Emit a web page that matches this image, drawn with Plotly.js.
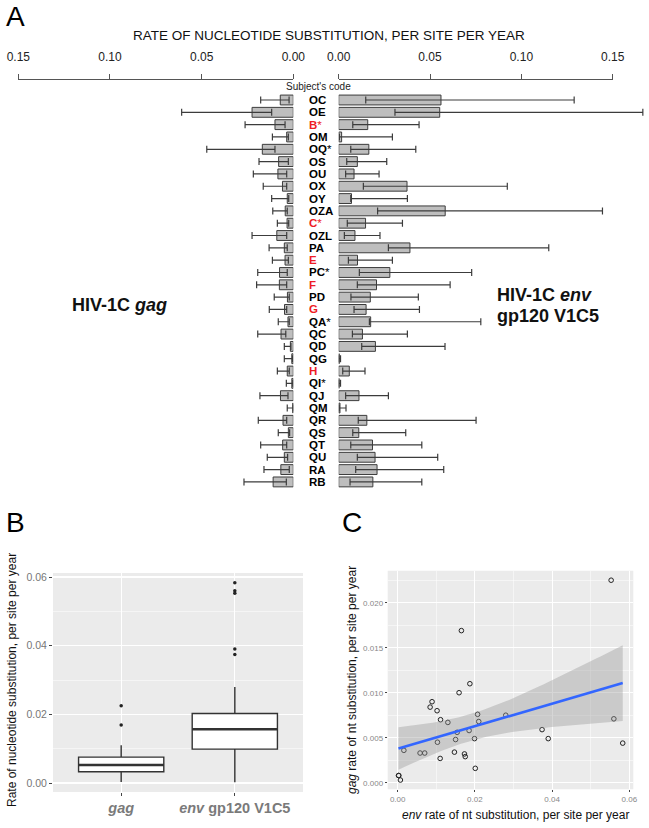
<!DOCTYPE html>
<html><head><meta charset="utf-8">
<script src="https://cdn.plot.ly/plotly-3.0.1.min.js"></script>
<style>html,body{margin:0;padding:0;background:#fff}#chart{width:649px;height:828px}</style>
</head><body><div id="chart"></div>
<script>
// ---------------- DATA ----------------
const subjects = ['OC','OE','B*','OM','OQ*','OS','OU','OX','OY','OZA','C*','OZL','PA','E','PC*','F','PD','G','QA*','QC','QD','QG','H','QI*','QJ','QM','QR','QS','QT','QU','RA','RB'];
const highlighted = ['B*','C*','E','F','G','H'];

// gag: mean rate, lower and upper interval ends
const gagRate = [0.0071,0.0225,0.0100,0.0036,0.0169,0.0080,0.0084,0.0059,0.0033,0.0044,0.0034,0.0090,0.0049,0.0045,0.0075,0.0076,0.0032,0.0048,0.0029,0.0067,0.0016,0.0008,0.0033,0.0008,0.0070,0.0003,0.0056,0.0027,0.0058,0.0049,0.0068,0.0110];
const gagLow  = [0.0023,0.0118,0.0045,0.0027,0.0100,0.0027,0.0036,0.0036,0.0025,0.0033,0.0025,0.0036,0.0033,0.0027,0.0033,0.0036,0.0022,0.0036,0.0022,0.0041,0.0013,0.0005,0.0022,0.0003,0.0029,0.0001,0.0036,0.0020,0.0036,0.0031,0.0022,0.0038];
const gagHigh = [0.0178,0.0609,0.0263,0.0114,0.0472,0.0187,0.0218,0.0164,0.0118,0.0112,0.0087,0.0225,0.0132,0.0114,0.0194,0.0200,0.0104,0.0131,0.0082,0.0194,0.0049,0.0049,0.0087,0.0038,0.0182,0.0033,0.0191,0.0082,0.0178,0.0142,0.0160,0.0269];

// env gp120 V1C5: mean rate, lower and upper interval ends
const envRate = [0.0560,0.0553,0.0159,0.0016,0.0165,0.0102,0.0084,0.0374,0.0070,0.0583,0.0147,0.0089,0.0390,0.0103,0.0280,0.0207,0.0173,0.0150,0.0175,0.0130,0.0201,0.0003,0.0058,0.0002,0.0111,0.0007,0.0154,0.0110,0.0185,0.0199,0.0210,0.0187];
const envLow  = [0.0148,0.0308,0.0077,0.0004,0.0066,0.0044,0.0038,0.0135,0.0066,0.0213,0.0047,0.0031,0.0272,0.0053,0.0113,0.0102,0.0067,0.0084,0.0168,0.0075,0.0126,0.0001,0.0022,0.0001,0.0038,0.0003,0.0107,0.0077,0.0066,0.0102,0.0093,0.0062];
const envHigh = [0.1289,0.1665,0.0440,0.0294,0.0422,0.0263,0.0221,0.0923,0.0376,0.1444,0.0349,0.0226,0.1150,0.0294,0.0728,0.0610,0.0436,0.0442,0.0778,0.0376,0.0582,0.0010,0.0144,0.0010,0.0272,0.0040,0.0752,0.0367,0.0455,0.0542,0.0575,0.0455];

const topTicks = [0, 0.05, 0.10, 0.15];
const boxCategories = ['gag', 'env gp120 V1C5'];
const boxTickLabels = ['<b><i>gag</i></b>', '<b><i>env</i> gp120 V1C5</b>'];

// ---------------- HELPERS ----------------
const W = 649, H = 828;
const px = v => v / W;
const py = v => 1 - v / H;
const FONT = 'Liberation Sans, Arial, Helvetica, sans-serif';
const idx = subjects.map((_, i) => i);
const sub = (a, b) => a.map((v, i) => v - b[i]);

function q7(arr, p) {
  const s = [...arr].sort((a, b) => a - b);
  const h = (s.length - 1) * p, lo = Math.floor(h);
  const hi = Math.min(lo + 1, s.length - 1);
  return s[lo] + (h - lo) * (s[hi] - s[lo]);
}
function boxStats(arr) {
  const q1 = q7(arr, 0.25), med = q7(arr, 0.5), q3 = q7(arr, 0.75);
  const iqr = q3 - q1, upLim = q3 + 1.5 * iqr, loLim = q1 - 1.5 * iqr;
  const inside = arr.filter(v => v >= loLim && v <= upLim);
  return { q1, med, q3, lo: Math.min(...inside), hi: Math.max(...inside),
           out: arr.filter(v => v < loLim || v > upLim) };
}
const gStats = boxStats(gagRate), eStats = boxStats(envRate);

// linear regression with 95% CI (as geom_smooth(method='lm'))
const n = envRate.length;
const xbar = envRate.reduce((a, b) => a + b, 0) / n;
const ybar = gagRate.reduce((a, b) => a + b, 0) / n;
let sxx = 0, sxy = 0;
envRate.forEach((x, i) => { sxx += (x - xbar) ** 2; sxy += (x - xbar) * (gagRate[i] - ybar); });
const slope = sxy / sxx, icpt = ybar - slope * xbar;
let sse = 0; envRate.forEach((x, i) => { sse += (gagRate[i] - icpt - slope * x) ** 2; });
const s = Math.sqrt(sse / (n - 2)), tval = 2.0423;
const xmin = Math.min(...envRate), xmax = Math.max(...envRate);
const fitX = [], fitY = [], fitU = [], fitL = [];
for (let k = 0; k < 80; k++) {
  const x = xmin + (xmax - xmin) * k / 79;
  const yhat = icpt + slope * x;
  const se = s * Math.sqrt(1 / n + (x - xbar) ** 2 / sxx);
  fitX.push(x); fitY.push(yhat); fitU.push(yhat + tval * se); fitL.push(yhat - tval * se);
}

// ---------------- TRACES ----------------
const barLine = '#3c3c3c';
const meds = [gStats.med, eStats.med];
const traces = [
  { type: 'bar', orientation: 'h', x: gagRate, y: idx, xaxis: 'x', yaxis: 'y', width: 0.8,
    marker: { color: '#BEBEBE', line: { color: barLine, width: 1 } },
    error_x: { type: 'data', symmetric: false, array: sub(gagHigh, gagRate), arrayminus: sub(gagRate, gagLow),
               color: barLine, thickness: 1.2, width: 3.5 }, hoverinfo: 'skip' },
  { type: 'bar', orientation: 'h', x: envRate, y: idx, xaxis: 'x2', yaxis: 'y', width: 0.8,
    marker: { color: '#BEBEBE', line: { color: barLine, width: 1 } },
    error_x: { type: 'data', symmetric: false, array: sub(envHigh, envRate), arrayminus: sub(envRate, envLow),
               color: barLine, thickness: 1.2, width: 3.5 }, hoverinfo: 'skip' },
  { type: 'scatter', mode: 'markers', x: envRate, y: idx, xaxis: 'x3', yaxis: 'y',
    marker: { opacity: 0 }, hoverinfo: 'skip' },
  { type: 'box', x: boxCategories, q1: [gStats.q1, eStats.q1], median: meds,
    q3: [gStats.q3, eStats.q3], lowerfence: [gStats.lo, eStats.lo], upperfence: [gStats.hi, eStats.hi],
    xaxis: 'x4', yaxis: 'y4', width: 0.75, whiskerwidth: 0, boxpoints: false,
    fillcolor: '#FFFFFF', line: { color: '#333333', width: 1.4 }, hoverinfo: 'skip' },
  // thicker median bar (ggplot fatten = 2)
  { type: 'box', x: boxCategories, q1: meds, median: meds, q3: meds, lowerfence: meds, upperfence: meds,
    xaxis: 'x4', yaxis: 'y4', width: 0.75, whiskerwidth: 0, boxpoints: false,
    fillcolor: '#333333', line: { color: '#333333', width: 2.6 }, hoverinfo: 'skip' },
  { type: 'scatter', mode: 'markers', xaxis: 'x4', yaxis: 'y4',
    x: gStats.out.map(() => boxCategories[0]).concat(eStats.out.map(() => boxCategories[1])),
    y: gStats.out.concat(eStats.out), marker: { color: '#222', size: 3.5 }, hoverinfo: 'skip' },
  { type: 'scatter', mode: 'markers', x: envRate, y: gagRate, xaxis: 'x5', yaxis: 'y5',
    marker: { symbol: 'circle-open', size: 4.6, color: '#222', line: { width: 1, color: '#222' } }, hoverinfo: 'skip' },
  { type: 'scatter', mode: 'lines', x: fitX.concat([...fitX].reverse()), y: fitU.concat([...fitL].reverse()),
    fill: 'toself', fillcolor: 'rgba(153,153,153,0.4)', line: { width: 0 }, xaxis: 'x5', yaxis: 'y5', hoverinfo: 'skip' },
  { type: 'scatter', mode: 'lines', x: fitX, y: fitY, line: { color: '#3366FF', width: 2.6 },
    xaxis: 'x5', yaxis: 'y5', hoverinfo: 'skip' }
];

// ---------------- LAYOUT ----------------
const topAxis = (dom) => ({
  domain: dom, anchor: 'free', position: py(79), side: 'top', range: null,
  showline: true, linecolor: '#555', linewidth: 1, ticks: 'outside', ticklen: 5, tickwidth: 1, tickcolor: '#555',
  tickvals: topTicks, tickformat: '.2f', tickfont: { size: 12, color: '#222' }, ticklabelstandoff: 8,
  showgrid: false, zeroline: false, fixedrange: true
});
const xA = topAxis([px(18.3), px(293.3)]); xA.range = [0.15, 0];
const xC = topAxis([px(338.7), px(612.7)]); xC.range = [0, 0.15];

const ggGrid = { showgrid: true, gridcolor: '#FFFFFF', gridwidth: 1.1, zeroline: false, showline: false,
  ticks: 'outside', tickcolor: '#444', tickwidth: 1 };

const annotations = [
  { text: 'A', x: px(4), y: py(17), xanchor: 'left', yanchor: 'middle', font: { size: 28, color: '#000' } },
  { text: 'RATE OF NUCLEOTIDE SUBSTITUTION, PER SITE PER YEAR', x: px(329), y: py(36), xanchor: 'center', yanchor: 'middle', font: { size: 13.5, color: '#111' } },
  { text: "Subject's code", x: px(318), y: py(86), xanchor: 'center', yanchor: 'middle', font: { size: 10, color: '#222' } },
  { text: '<b>HIV-1C <i>gag</i></b>', x: px(70), y: py(305), xanchor: 'left', yanchor: 'middle', font: { size: 18, color: '#111' } },
  { text: '<b>HIV-1C <i>env</i></b>', x: px(495), y: py(295), xanchor: 'left', yanchor: 'middle', font: { size: 18, color: '#111' } },
  { text: '<b>gp120 V1C5</b>', x: px(495), y: py(316), xanchor: 'left', yanchor: 'middle', font: { size: 18, color: '#111' } },
  { text: 'B', x: px(4), y: py(522), xanchor: 'left', yanchor: 'middle', font: { size: 28, color: '#000' } },
  { text: 'C', x: px(340), y: py(522), xanchor: 'left', yanchor: 'middle', font: { size: 28, color: '#000' } },
  { text: 'Rate of nucleotide substitution, per site per year', x: px(12), y: py(680), textangle: -90, xanchor: 'center', yanchor: 'middle', font: { size: 12, color: '#111' } },
  { text: '<i>gag</i> rate of nt substitution, per site per year', x: px(352), y: py(680), textangle: -90, xanchor: 'center', yanchor: 'middle', font: { size: 12, color: '#111' } },
  { text: '<i>env</i> rate of nt substitution, per site per year', x: px(515), y: py(815), xanchor: 'center', yanchor: 'middle', font: { size: 12, color: '#111' } }
];
subjects.forEach((name, i) => {
  const star = name.endsWith('*');
  const base = star ? name.slice(0, -1) : name;
  annotations.push({
    text: '<b>' + base + '</b>' + (star ? '*' : ''), x: px(306.5), y: i, xref: 'paper', yref: 'y',
    xanchor: 'left', yanchor: 'middle',
    font: { size: 11.5, color: highlighted.includes(name) ? '#EE1C25' : '#000' }
  });
});
annotations.forEach(a => { a.showarrow = false; if (!a.xref) a.xref = 'paper'; if (!a.yref) a.yref = 'paper'; });

const layout = {
  width: W, height: H, margin: { l: 0, r: 0, t: 0, b: 0 },
  paper_bgcolor: '#FFFFFF', plot_bgcolor: 'rgba(0,0,0,0)', boxmode: 'overlay',
  font: { family: FONT, color: '#111' }, showlegend: false,
  xaxis: xA,
  xaxis2: { domain: [px(338.7), px(645)], range: [0, 0.15 * (645 - 338.7) / (612.7 - 338.7)], visible: false, anchor: 'y', fixedrange: true },
  xaxis3: xC,
  yaxis: { domain: [py(488.08), py(93.84)], range: [31.5, -0.5], visible: false, anchor: 'x', fixedrange: true },
  xaxis4: Object.assign({}, ggGrid, { domain: [px(53), px(303)], anchor: 'y4', type: 'category',
    categoryorder: 'array', categoryarray: boxCategories, tickvals: boxCategories, ticktext: boxTickLabels,
    range: [-0.6, 1.6], ticklen: 3, tickfont: { size: 14.5, color: '#7a7a7a' } }),
  yaxis4: Object.assign({}, ggGrid, { domain: [py(792), py(573)], anchor: 'x4', range: [-0.00262, 0.06117],
    tick0: 0, dtick: 0.02, tickformat: '.2f', ticklen: 3, tickfont: { size: 10.5, color: '#777' },
    minor: { tick0: 0, dtick: 0.01, showgrid: true, gridcolor: '#FFFFFF', gridwidth: 0.5, ticks: '' } }),
  xaxis5: Object.assign({}, ggGrid, { domain: [px(387.7), px(633.3)], anchor: 'y5', range: [-0.00259, 0.06104],
    tick0: 0, dtick: 0.02, tickformat: '.2f', ticklen: 2, tickfont: { size: 8, color: '#888' },
    minor: { tick0: 0, dtick: 0.01, showgrid: true, gridcolor: '#FFFFFF', gridwidth: 0.5, ticks: '' } }),
  yaxis5: Object.assign({}, ggGrid, { domain: [py(789.3), py(570.7)], anchor: 'x5', range: [-0.00073, 0.023556],
    tick0: 0, dtick: 0.005, tickformat: '.3f', ticklen: 2, tickfont: { size: 8, color: '#888' },
    minor: { tick0: 0, dtick: 0.0025, showgrid: true, gridcolor: '#FFFFFF', gridwidth: 0.5, ticks: '' } }),
  shapes: [
    { type: 'rect', xref: 'x4 domain', yref: 'y4 domain', x0: 0, x1: 1, y0: 0, y1: 1, fillcolor: '#EBEBEB', line: { width: 0 }, layer: 'below' },
    { type: 'rect', xref: 'x5 domain', yref: 'y5 domain', x0: 0, x1: 1, y0: 0, y1: 1, fillcolor: '#EBEBEB', line: { width: 0 }, layer: 'below' }
  ],
  annotations: annotations
};

Plotly.newPlot('chart', traces, layout, { staticPlot: true, displayModeBar: false });
</script>
</body></html>
